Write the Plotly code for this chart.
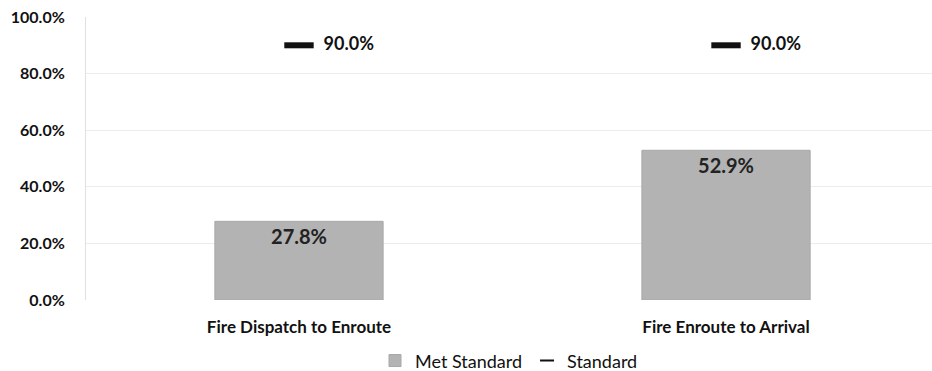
import plotly.graph_objects as go

categories = ["Fire Dispatch to Enroute", "Fire Enroute to Arrival"]
met_standard = [27.8, 52.9]
standard = [90.0, 90.0]
y_ticks = [0, 20, 40, 60, 80, 100]
y_tick_labels = ["0.0%", "20.0%", "40.0%", "60.0%", "80.0%", "100.0%"]

FONT = "Lato, 'Open Sans', sans-serif"

fig = go.Figure()
fig.add_trace(go.Bar(
    x=[0, 1], y=met_standard, name="Met Standard",
    marker=dict(color="#b3b3b3", line=dict(color="#a8a8a8", width=1)),
    width=0.394,
    text=[f"<b>{v:.1f}%</b>" for v in met_standard],
    textposition="inside", insidetextanchor="end",
    textfont=dict(family=FONT, size=20, color="#222222"),
    cliponaxis=False,
))
fig.add_trace(go.Scatter(
    x=[0, 1], y=standard, name="Standard", mode="markers+text",
    showlegend=False,
    marker=dict(symbol="line-ew", size=21, color="#111111",
                line=dict(color="#111111", width=6)),
    text=[f"<b>\u2007{v:.1f}%</b>" for v in standard],
    textposition="middle right",
    textfont=dict(family=FONT, size=18, color="#111111"),
    cliponaxis=False,
))
# legend entry for the standard series (no data points)
fig.add_trace(go.Scatter(
    x=[None], y=[None], name="Standard", mode="markers",
    marker=dict(symbol="line-ew", size=10, color="#111111",
                line=dict(color="#111111", width=2)),
))

fig.update_layout(
    width=932, height=371,
    margin=dict(l=86, r=0, t=17, b=71, autoexpand=False),
    plot_bgcolor="white", paper_bgcolor="white",
    font=dict(family=FONT, size=16, color="#111111"),
    showlegend=True,
    legend=dict(orientation="h", x=0.5, xanchor="center",
                y=-0.215, yanchor="middle",
                font=dict(family=FONT, size=18, color="#111111"),
                itemwidth=30, traceorder="normal"),
    xaxis=dict(range=[-0.4988, 1.4824], tickmode="array", tickvals=[0, 1],
               ticktext=[f"<b>{c}</b>" for c in categories],
               showgrid=False, zeroline=False, showline=False, ticks="",
               ticklabelstandoff=15, automargin=False,
               tickfont=dict(family=FONT, size=17, color="#111111")),
    yaxis=dict(range=[0, 100], tickmode="array", tickvals=y_ticks,
               ticktext=[f"<b>{t}</b>" for t in y_tick_labels],
               showgrid=True, gridcolor="#ececec", gridwidth=1,
               zeroline=False, showline=True, linecolor="#e0e0e0", linewidth=1,
               ticks="", ticklabelstandoff=17, automargin=False,
               tickfont=dict(family=FONT, size=16, color="#111111")),
)

fig.write_html("out.html")
